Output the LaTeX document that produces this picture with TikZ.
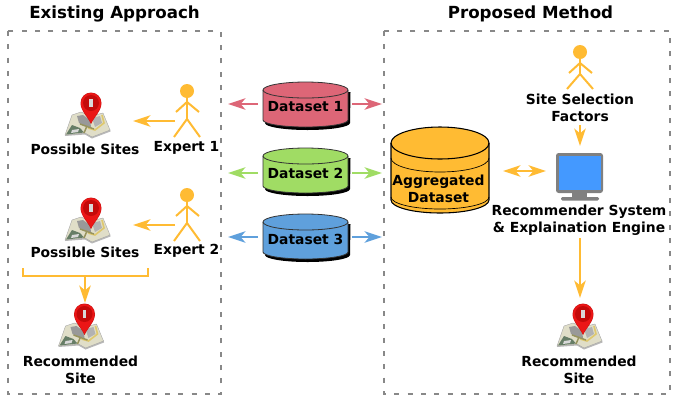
\documentclass[tikz,border=0pt]{standalone}
\usepackage{fontspec}
\setmainfont{DejaVu Sans}
\usetikzlibrary{arrows.meta}
\definecolor{cOrange}{HTML}{FFBB33}
\definecolor{cRed}{HTML}{DD6677}
\definecolor{cGreen}{HTML}{A0DC64}
\definecolor{cBlue}{HTML}{5FA0DC}
\definecolor{cBox}{HTML}{888888}
\definecolor{cMap}{RGB}{224,222,200}
\definecolor{cRoad}{RGB}{222,200,110}
\definecolor{cPinDark}{RGB}{200,20,20}
\definecolor{cPin}{RGB}{235,22,22}
\definecolor{cPinIn}{RGB}{196,10,10}
\definecolor{cScreen}{RGB}{68,153,255}
\tikzset{
  x=0.75pt,y=-0.75pt,
  framebox/.style={draw=cBox,line width=1.7pt,dash pattern=on 3.8pt off 6.2pt},
  lbl/.style={font=\fontsize{10.4}{12.75}\selectfont\bfseries,align=center,inner sep=0pt,text=black},
  ttl/.style={font=\fontsize{12.5}{14}\selectfont\bfseries,inner sep=0pt,text=black},
  conn/.style={line width=1.9pt,-{Stealth[length=13pt,width=8.5pt,inset=3.5pt]}},
  conntwo/.style={line width=1.9pt,{Stealth[length=13pt,width=8.5pt,inset=3.5pt]}-{Stealth[length=13pt,width=8.5pt,inset=3.5pt]}},
  person/.style={cOrange,line width=1.5pt},
  anchorbox/.style={inner sep=0pt,minimum width=#1,outer sep=0pt},
}
\newcommand\mapicon[3]{% name, tip x, tip y
  \begin{scope}[shift={(#2,#3)}]
    \fill[black!55,opacity=.5] (-26,12) -- (-6,10.5) -- (1,14.5) -- (19.5,7.5) -- (19,5) -- (-26,10) -- cycle;
    \fill[fill=cMap,draw=black!35,line width=.3pt] (-19,-9) -- (-26,11) -- (-6,9) -- (1,13) -- (19,6) -- (12,-11) -- (0,-8) -- (-10,-12) -- cycle;
    \fill[black!40] (-14,-8) -- (-8,-9) -- (-1,-4) -- (0,3) -- (-7,2) -- (-12,-1) -- cycle;
    \fill[black!30] (1,-6) -- (9,-8) -- (11,-1) -- (4,3) -- cycle;
    \fill[green!15!black!60] (-25,10.5) -- (-19,1) -- (-11,4) -- (-7,8.5) -- cycle;
    \fill[black!15] (-19,6) -- (-12,5) -- (-13,8) -- (-20,9) -- cycle;
    \draw[cRoad,line width=1.2pt] (11,-9) -- (13,-1) -- (4,6) -- (-3,4);
    \draw[yellow!45!black!85,line width=1.1pt] (-11,0) -- (3,5);
    \draw[yellow!45!black!85,line width=1.1pt] (-4,2) -- (-7,9);
    \fill[cPinDark] (0,0) .. controls (-3,-7) and (-10.5,-13) .. (-10.5,-21) arc[start angle=180,end angle=360,radius=10.5] .. controls (10.5,-13) and (3,-7) .. (0,0) -- cycle;
    \fill[cPin] (0,-1) .. controls (-3,-8) and (-10,-13) .. (-10,-21) arc[start angle=180,end angle=360,radius=10] .. controls (10,-13) and (3,-8) .. (0,-1) -- cycle;
    \fill[cPinIn] (0,-21) circle[radius=8];
    \fill[black!15] (-1.6,-25) rectangle (1.6,-17);
  \end{scope}
  \node[anchorbox=46pt,minimum height=30pt] (#1) at (#2,#3-10) {};
}
\newcommand\stick[5]{% name, x, head y, hip y, foot y
  \fill[cOrange] (#2,#3) ellipse[x radius=7,y radius=7];
  \draw[person] (#2,#3) -- (#2,#4);
  \draw[person] (#2-11,#3+21) -- (#2,#3+11) -- (#2+12,#3+21);
  \draw[person] (#2-13,#5) -- (#2,#4) -- (#2+13,#5);
  \node[anchorbox=20pt,minimum height=40pt] (#1) at (#2,{(#3+#5)/2}) {};
}
\newcommand\dbcyl[4]{% name, colour, top y, label
  \fill[black] (265,#3+10) -- (265,#3+41) arc[start angle=180,end angle=0,x radius=42.5,y radius=7] -- (350.5,#3+10) -- cycle;
  \fill[#2,draw=black!80,line width=.6pt] (263,#3+8) -- (263,#3+38) arc[start angle=180,end angle=0,x radius=42.5,y radius=7] -- (348,#3+8) arc[start angle=0,end angle=-180,x radius=42.5,y radius=8] -- cycle;
  \draw[black!80,line width=.6pt] (263,#3+8) arc[start angle=180,end angle=0,x radius=42.5,y radius=8];
  \node[lbl] (#1) at (305.5,#3+25) {#4};
}
\begin{document}
\begin{tikzpicture}
\useasboundingbox (0,0) rectangle (673,397);
% frames
\node[ttl] (t1) at (114.5,14) {Existing Approach};
\node[ttl] (t2) at (530.5,14) {Proposed Method};
\draw[framebox] (8,31) rectangle (221,394);
\draw[framebox] (384,31) rectangle (670,394);
% left column
\mapicon{site1}{91}{124}
\mapicon{site2}{91}{229}
\mapicon{site3}{84.5}{335}
\stick{exp1}{187}{91}{119}{137}
\stick{exp2}{187}{195}{223}{241}
\node[lbl] (l1) at (85,149) {Possible Sites};
\node[lbl] (l2) at (186.5,148) {Expert 1};
\node[lbl] (l3) at (85,252.5) {Possible Sites};
\node[lbl] (l4) at (186.5,251) {Expert 2};
\node[lbl] (l5) at (80.5,369.5) {Recommended\\Site};
\coordinate (e1a) at (175,121); \coordinate (s1a) at (133,121);
\coordinate (e2a) at (175,225); \coordinate (s2a) at (133,225);
\draw[conn,cOrange] (e1a) -- (s1a);
\draw[conn,cOrange] (e2a) -- (s2a);
\coordinate (bl) at (23,268); \coordinate (bm) at (85,276); \coordinate (br) at (148,268);
\coordinate (s3a) at (85,303);
\draw[cOrange,line width=1.7pt] (bl) -- (bl|-bm) -- (br|-bm) -- (br);
\draw[conn,cOrange] (bm) -- (s3a);
% datasets
\dbcyl{ds1}{cRed}{82}{Dataset 1}
\dbcyl{ds2}{cGreen}{148}{Dataset 2}
\dbcyl{ds3}{cBlue}{214}{Dataset 3}
\foreach \n/\c/\y in {1/cRed/104,2/cGreen/173,3/cBlue/237}{
  \coordinate (dl\n) at (258,\y); \coordinate (fl\n) at (228,\y);
  \coordinate (dr\n) at (352,\y); \coordinate (fr\n) at (382,\y);
  \draw[conn,\c] (dl\n) -- (fl\n);
  \draw[conn,\c] (dr\n) -- (fr\n);
}
% aggregated
\fill[cOrange,draw=black,line width=.8pt] (391,143) -- (391,200) arc[start angle=180,end angle=0,x radius=49,y radius=13] -- (489,143) arc[start angle=0,end angle=-180,x radius=49,y radius=16] -- cycle;
\draw[black,line width=.8pt] (391,143) arc[start angle=180,end angle=0,x radius=49,y radius=16];
\draw[black,line width=.5pt] (391,158) arc[start angle=180,end angle=0,x radius=49,y radius=14];
\draw[black,line width=.5pt] (391,197) arc[start angle=180,end angle=0,x radius=49,y radius=12];
\node[lbl] (agg) at (438.5,188.5) {Aggregated\\Dataset};
% right column
\stick{fac}{580}{52}{74}{89}
\node[lbl] (l6) at (580,107.5) {Site Selection\\Factors};
\fill[black!50,rounded corners=2pt] (556,153) rectangle (603,193);
\fill[cScreen] (558.5,156) rectangle (600.5,190);
\fill[black!50] (572,193) rectangle (587,197);
\fill[black!50,rounded corners=1pt] (561,197) rectangle (599,200.5);
\node[anchorbox=35pt,minimum height=36pt] (screen) at (579.5,176.5) {};
\node[lbl] (l7) at (579,220) {Recommender System\\\& Explaination Engine};
\mapicon{site4}{583}{335}
\node[lbl] (l8) at (579,369.5) {Recommended\\Site};
\coordinate (fa) at (580,125); \coordinate (ma) at (580,146);
\coordinate (dbl) at (503,171); \coordinate (dbr) at (546,171);
\coordinate (mb) at (580,238); \coordinate (s4a) at (580,298);
\draw[conn,cOrange] (fa) -- (ma);
\draw[conntwo,cOrange] (dbl) -- (dbr);
\draw[conn,cOrange] (mb) -- (s4a);
\end{tikzpicture}
\end{document}
